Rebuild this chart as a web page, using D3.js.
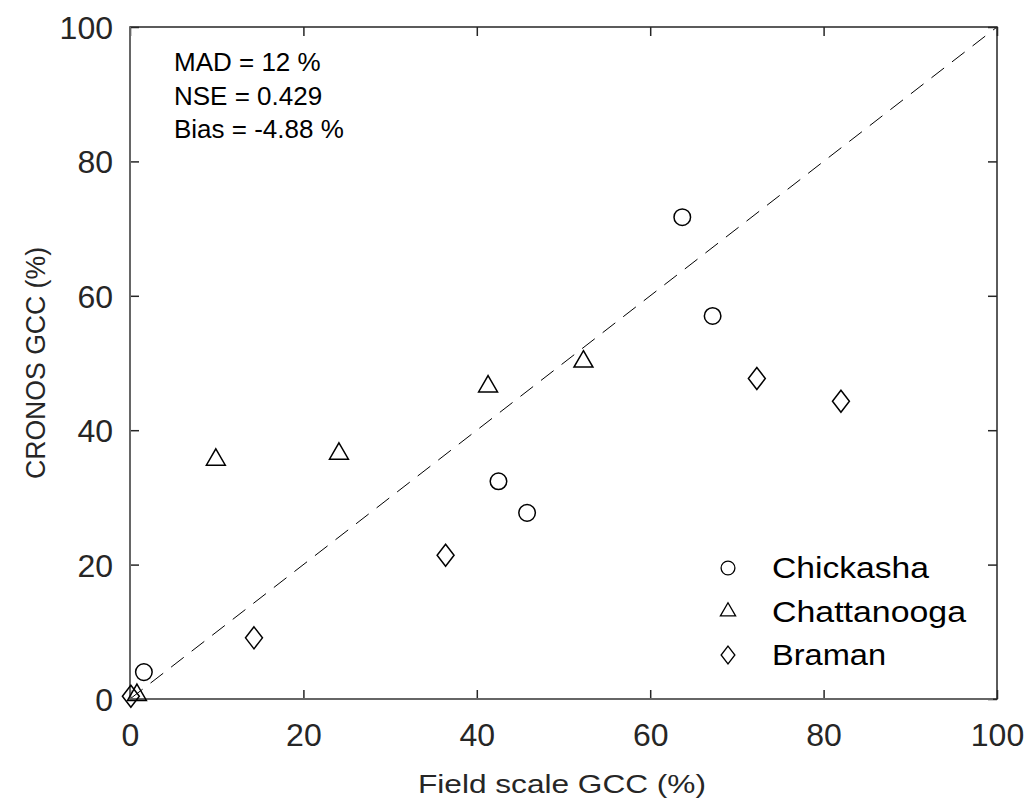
<!DOCTYPE html>
<html>
<head>
<meta charset="utf-8">
<script src="https://cdn.jsdelivr.net/npm/d3@7"></script>
<style>
  body { margin: 0; background: #fff; }
  svg { display: block; font-family: Arial, "Liberation Sans", sans-serif; }
</style>
</head>
<body>
<svg id="canvas" width="1031" height="803"></svg>
<script>
// values (field scale GCC %, CRONOS GCC %)
let chickashaX = [1.6, 63.7, 67.2, 42.5, 45.8]
let chickashaY = [4.0, 71.7, 57.0, 32.4, 27.7]
let chattanoogaX = [0.8, 9.9, 24.1, 41.3, 52.3]
let chattanoogaY = [0.6, 35.6, 36.5, 46.5, 50.2]
let bramanX = [0.1, 14.3, 36.4, 72.3, 82.0]
let bramanY = [0.4, 9.1, 21.4, 47.7, 44.3]

let sites = ['Chickasha', 'Chattanooga', 'Braman']
let ticks = [0, 20, 40, 60, 80, 100]
let stats = ['MAD = 12 %', 'NSE = 0.429', 'Bias = -4.88 %']

let svg = d3.select('#canvas')
let margin = {left: 130, top: 27, right: 34, bottom: 104}
let w = 1031 - margin.left - margin.right
let h = 803 - margin.top - margin.bottom

let g = svg.append('g').attr('transform', 'translate(' + margin.left + ',' + margin.top + ')')

let xScale = d3.scaleLinear().domain([0, 100]).range([0, w])
let yScale = d3.scaleLinear().domain([0, 100]).range([h, 0])

// 1:1 line
g.append('line')
    .attr('x1', xScale(0)).attr('y1', yScale(0))
    .attr('x2', xScale(100)).attr('y2', yScale(100))
    .attr('stroke', '#000')
    .attr('stroke-width', 1)
    .attr('stroke-dasharray', '16,10')

// box + axes
g.append('rect')
    .attr('width', w).attr('height', h)
    .attr('fill', 'none')
    .attr('stroke', '#262626')
    .attr('stroke-width', 1.5)

let xAxis = g.append('g')
    .attr('transform', 'translate(0,' + h + ')')
    .call(d3.axisBottom(xScale).tickValues(ticks).tickSize(-9).tickPadding(24))
let xTop = g.append('g')
    .call(d3.axisTop(xScale).tickValues(ticks).tickSize(-9).tickFormat(''))
let yAxis = g.append('g')
    .call(d3.axisLeft(yScale).tickValues(ticks).tickSize(-9).tickPadding(17))
let yRight = g.append('g')
    .attr('transform', 'translate(' + w + ',0)')
    .call(d3.axisRight(yScale).tickValues(ticks).tickSize(-9).tickFormat(''))

;[xAxis, xTop, yAxis, yRight].forEach((ax) => {
    ax.select('.domain').remove()
    ax.selectAll('line').attr('stroke', '#262626').attr('stroke-width', 1.5)
    ax.selectAll('text')
        .attr('fill', '#262626')
        .style('font-size', '32px')
        .style('font-family', 'Arial, "Liberation Sans", sans-serif')
})
yAxis.selectAll('text').attr('dy', '0.36em')

// left and bottom drawn lighter like the source
g.append('line').attr('x1', 0).attr('y1', 0).attr('x2', 0).attr('y2', h)
    .attr('stroke', '#666').attr('stroke-width', 2)
g.append('line').attr('x1', 0).attr('y1', h).attr('x2', w - 4).attr('y2', h)
    .attr('stroke', '#666').attr('stroke-width', 2)

// axis titles
svg.append('text')
    .attr('x', 562)
    .attr('y', 793)
    .attr('text-anchor', 'middle')
    .attr('fill', '#262626')
    .attr('textLength', 288)
    .attr('lengthAdjust', 'spacingAndGlyphs')
    .style('font-size', '26px')
    .text('Field scale GCC (%)')

svg.append('text')
    .attr('transform', 'translate(45,' + (margin.top + h / 2) + ') rotate(-90)')
    .attr('text-anchor', 'middle')
    .attr('fill', '#262626')
    .attr('textLength', 232)
    .attr('lengthAdjust', 'spacingAndGlyphs')
    .style('font-size', '28px')
    .text('CRONOS GCC (%)')

// markers
let series = [
    d3.zip(chickashaX, chickashaY),
    d3.zip(chattanoogaX, chattanoogaY),
    d3.zip(bramanX, bramanY)
]

let markerPath = (i, big) => {
    if (i === 0) return d3.symbol().type(d3.symbolCircle).size(big ? 215 : 150)()
    if (i === 1) return d3.symbol().type(d3.symbolTriangle).size(big ? 155 : 100)()
    return d3.symbol().type(d3.symbolSquare).size(big ? 242 : 160)()
}
let markerShape = (i) => i === 2 ? ' scale(0.77,1) rotate(45)' : ''

series.forEach((pts, i) => {
    g.selectAll('.pt' + i)
        .data(pts)
        .enter()
        .append('path')
        .attr('class', 'pt' + i)
        .attr('d', markerPath(i, true))
        .attr('transform', (d) => 'translate(' + xScale(d[0]) + ',' + yScale(d[1]) + ')' + markerShape(i))
        .attr('fill', 'none')
        .attr('stroke', '#000')
        .attr('stroke-width', 1.5)
        .attr('vector-effect', 'non-scaling-stroke')
})

// legend
let legendWidths = [157, 194, 114]
let legend = svg.append('g').attr('transform', 'translate(728,568)')
sites.forEach((name, i) => {
    let row = legend.append('g').attr('transform', 'translate(0,' + (i * 43.5) + ')')
    row.append('path')
        .attr('d', markerPath(i, false))
        .attr('transform', markerShape(i))
        .attr('fill', 'none')
        .attr('stroke', '#000')
        .attr('stroke-width', 1.3)
        .attr('vector-effect', 'non-scaling-stroke')
    row.append('text')
        .attr('x', 44)
        .attr('y', 0)
        .attr('dy', '0.36em')
        .attr('fill', '#000')
        .attr('textLength', legendWidths[i])
        .attr('lengthAdjust', 'spacingAndGlyphs')
        .style('font-size', '29px')
        .text(name)
})

// stats text
let statText = svg.append('g').attr('transform', 'translate(174,71)')
stats.forEach((s, i) => {
    statText.append('text')
        .attr('x', 0)
        .attr('y', i * 33.5)
        .attr('fill', '#000')
        .style('font-size', '26px')
        .text(s)
})
</script>
</body>
</html>
